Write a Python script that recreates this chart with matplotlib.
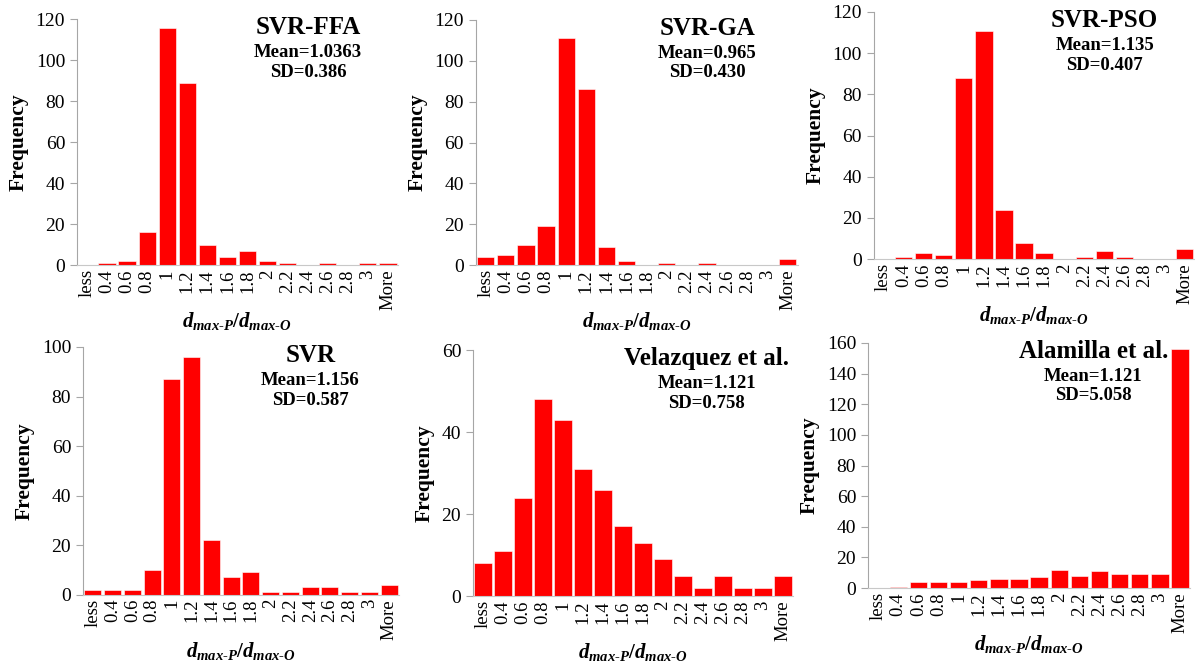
import matplotlib
matplotlib.use("Agg")
import matplotlib.pyplot as plt
import numpy as np

plt.rcParams["font.family"] = ["Liberation Serif", "DejaVu Serif"]
plt.rcParams["mathtext.fontset"] = "custom"
plt.rcParams["mathtext.rm"] = "Liberation Serif:bold"
plt.rcParams["mathtext.it"] = "Liberation Serif:italic:bold"
plt.rcParams["mathtext.bf"] = "Liberation Serif:bold"

# bin labels shared by every histogram
bins = ["less", "0.4", "0.6", "0.8", "1", "1.2", "1.4", "1.6", "1.8",
        "2", "2.2", "2.4", "2.6", "2.8", "3", "More"]

# frequencies
svr_ffa = [0, 1, 2, 16, 116, 89, 10, 4, 7, 2, 1, 0, 1, 0, 1, 1]
svr_ga = [4, 5, 10, 19, 111, 86, 9, 2, 0, 1, 0, 1, 0, 0, 0, 3]
svr_pso = [0, 1, 3, 2, 88, 111, 24, 8, 3, 0, 1, 4, 1, 0, 0, 5]
svr = [2, 2, 2, 10, 87, 96, 22, 7, 9, 1, 1, 3, 3, 1, 1, 4]
velazquez = [8, 11, 24, 48, 43, 31, 26, 17, 13, 9, 5, 2, 5, 2, 2, 5]
alamilla = [0, 1, 4, 4, 4, 5, 6, 6, 7, 12, 8, 11, 9, 9, 9, 156]

names = ["SVR-FFA", "SVR-GA", "SVR-PSO", "SVR", "Velazquez et al.", "Alamilla et al."]
means = ["1.0363", "0.965", "1.135", "1.156", "1.121", "1.121"]
sds = ["0.386", "0.430", "0.407", "0.587", "0.758", "5.058"]
ymax = [120, 120, 120, 100, 60, 160]
series = [svr_ffa, svr_ga, svr_pso, svr, velazquez, alamilla]

# axes rectangles [left, bottom, width, height] in figure fraction
rects = [
    [0.0644, 0.602, 0.2686, 0.369],
    [0.398, 0.602, 0.2695, 0.368],
    [0.731, 0.611, 0.2686, 0.371],
    [0.0695, 0.107, 0.2644, 0.372],
    [0.3958, 0.105, 0.2678, 0.369],
    [0.7264, 0.117, 0.2695, 0.368],
]
title_x = [0.72, 0.72, 0.72, 0.72, 0.73, 0.70]

fig = plt.figure(figsize=(11.95, 6.66), dpi=100)
x = np.arange(len(bins))

for rect, vals, name, mean, sd, top, tx in zip(rects, series, names, means, sds, ymax, title_x):
    ax = fig.add_axes(rect)
    ax.bar(x, vals, width=0.86, color="#ff0000", edgecolor="white", linewidth=0.4)
    ax.set_xlim(-0.5, len(bins) - 0.5)
    ax.set_ylim(0, top)
    ax.set_yticks(np.arange(0, top + 1, 20))
    ax.set_xticks(x)
    ax.set_xticklabels(bins, rotation=90, fontsize=13.5)
    ax.tick_params(axis="x", length=0, pad=3)
    ax.tick_params(axis="y", length=5, color="#a6a6a6", labelsize=14, direction="out")
    for s in ["top", "right"]:
        ax.spines[s].set_visible(False)
    ax.spines["left"].set_color("#a6a6a6")
    ax.spines["bottom"].set_color("#c8c8c8")
    ax.set_ylabel("Frequency", fontsize=15.5, fontweight="bold", labelpad=5)
    ax.set_xlabel(r"$d_{max\text{-}P}/d_{max\text{-}O}$", fontsize=15, labelpad=0)
    ax.text(tx, 0.965, name, transform=ax.transAxes, ha="center", va="center",
            fontsize=18, fontweight="bold")
    ax.text(tx, 0.865, "Mean=" + mean, transform=ax.transAxes, ha="center",
            va="center", fontsize=13.5, fontweight="bold")
    ax.text(tx, 0.785, "SD=" + sd, transform=ax.transAxes, ha="center",
            va="center", fontsize=13.5, fontweight="bold")

fig.savefig("out.png", dpi=100)
